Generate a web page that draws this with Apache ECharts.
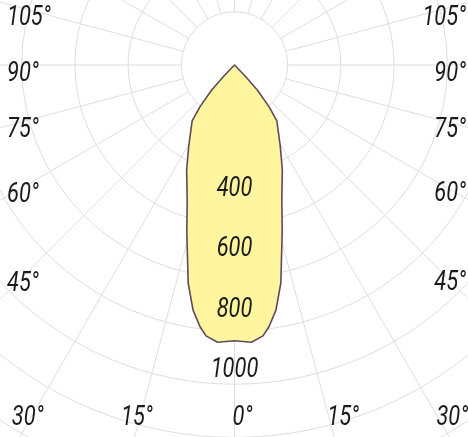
<!DOCTYPE html>
<html><head><meta charset="utf-8">
<script src="https://cdn.jsdelivr.net/npm/echarts@6/dist/echarts.min.js"></script>
<style>html,body{margin:0;padding:0;background:#fff}#c{width:468px;height:437px}</style>
</head><body><div id="c"></div>
<script>
// Half of the symmetric luminous intensity curve: angle from nadir (deg) and intensity (cd)
const curveAngles    = [0,   3.5, 6,   7.5, 9.6, 12,  16,  19.3, 24.5, 29.3, 37.2, 39.6, 42.4, 43.8, 50];
const curveIntensity = [913, 920, 902, 874, 823, 738, 573, 474,  382,  310,  232,  179,  112,  55,   0];
// radial (intensity) tick labels
const intensityTicks = [400, 600, 800, 1000];
// angle tick labels
const sideAngleTicks = [45, 60, 75, 90, 105];
const bottomAngleTicks = [0, 15, 30];

// closed contour: left half (positive angles) then right half (mirrored)
const contour = [];
for (let i = curveAngles.length - 1; i >= 0; i--) contour.push([curveIntensity[i], curveAngles[i]]);
for (let i = 1; i < curveAngles.length; i++) contour.push([curveIntensity[i], 360 - curveAngles[i]]);

const FONT = 'italic 400 28px Roboto, "Liberation Sans", sans-serif';
const SX = 0.78;
const GRID = '#dedede';
const CX = 234.5, CY = 65;

const chart = echarts.init(document.getElementById('c'), null, {renderer: 'canvas'});
chart.setOption({
  backgroundColor: '#ffffff',
  animation: false,
  polar: [
    {center: [CX, CY], radius: [53.2, 478.8]},
    {center: [CX, CY], radius: [0, 422.8]}
  ],
  angleAxis: [
    {polarIndex: 0, type: 'value', min: 0, max: 360, interval: 15, startAngle: 270, clockwise: true,
     axisLine: {show: false}, axisTick: {show: false}, axisLabel: {show: false},
     splitLine: {show: true, lineStyle: {color: GRID, width: 1}}},
    {polarIndex: 1, type: 'value', min: 0, max: 360, interval: 15, startAngle: 270, clockwise: true,
     axisLine: {show: false}, axisTick: {show: false}, axisLabel: {show: false}, splitLine: {show: false}}
  ],
  radiusAxis: [
    {polarIndex: 0, type: 'value', min: 1, max: 9, interval: 1,
     axisLine: {show: false}, axisTick: {show: false}, axisLabel: {show: false},
     splitLine: {show: true, lineStyle: {color: GRID, width: 1}}},
    {polarIndex: 1, type: 'value', min: 0, max: 1400, interval: 200,
     axisLine: {show: false}, axisTick: {show: false}, splitLine: {show: false}, axisLabel: {show: false}}
  ],
  series: [{
    type: 'custom', coordinateSystem: 'polar', polarIndex: 1, z: 5,
    data: contour,
    renderItem: function (params, api) {
      if (params.dataIndex !== 0) return null;
      const pts = contour.map(p => api.coord(p));
      return {type: 'polygon', shape: {points: pts},
        style: {fill: '#fff59e', stroke: '#5e4a58', lineWidth: 1.6, lineJoin: 'round'}};
    }
  }]
});

function pix(v) { return chart.convertToPixel({seriesIndex: 0}, v); }
function label(text, x, y, align) {
  return {type: 'text', x: x, y: y, z: 20, scaleX: SX,
    style: {text: text, font: FONT, fill: '#1a1a1a', align: align, verticalAlign: 'middle'}};
}
const c0 = pix([0, 0]);
const texts = [];
// intensity labels along the nadir direction, at their value on the radial scale
intensityTicks.forEach(v => {
  const p = pix([v, 0]);
  texts.push(label(String(v), p[0], p[1] + 3, 'center'));
});
// angle labels where each radial direction meets the chart edges
sideAngleTicks.forEach(a => {
  [[a, 25, 7, 'left'], [360 - a, 443, 466, 'right']].forEach(([ang, X, tx, al]) => {
    const p = pix([1000, ang]);
    const t = (X - c0[0]) / (p[0] - c0[0]);
    const y = c0[1] + t * (p[1] - c0[1]);
    texts.push(label(a + '°', tx, y + 9, al));
  });
});
bottomAngleTicks.forEach(a => {
  const sides = a === 0 ? [[0, 8]] : [[a, -3], [360 - a, 14]];
  sides.forEach(([ang, off]) => {
    const p = pix([1000, ang]);
    const Y = 418;
    const t = (Y - c0[1]) / (p[1] - c0[1]);
    const x = c0[0] + t * (p[0] - c0[0]);
    texts.push(label(a + '°', x + off, Y, 'center'));
  });
});
chart.setOption({graphic: texts});
</script></body></html>
